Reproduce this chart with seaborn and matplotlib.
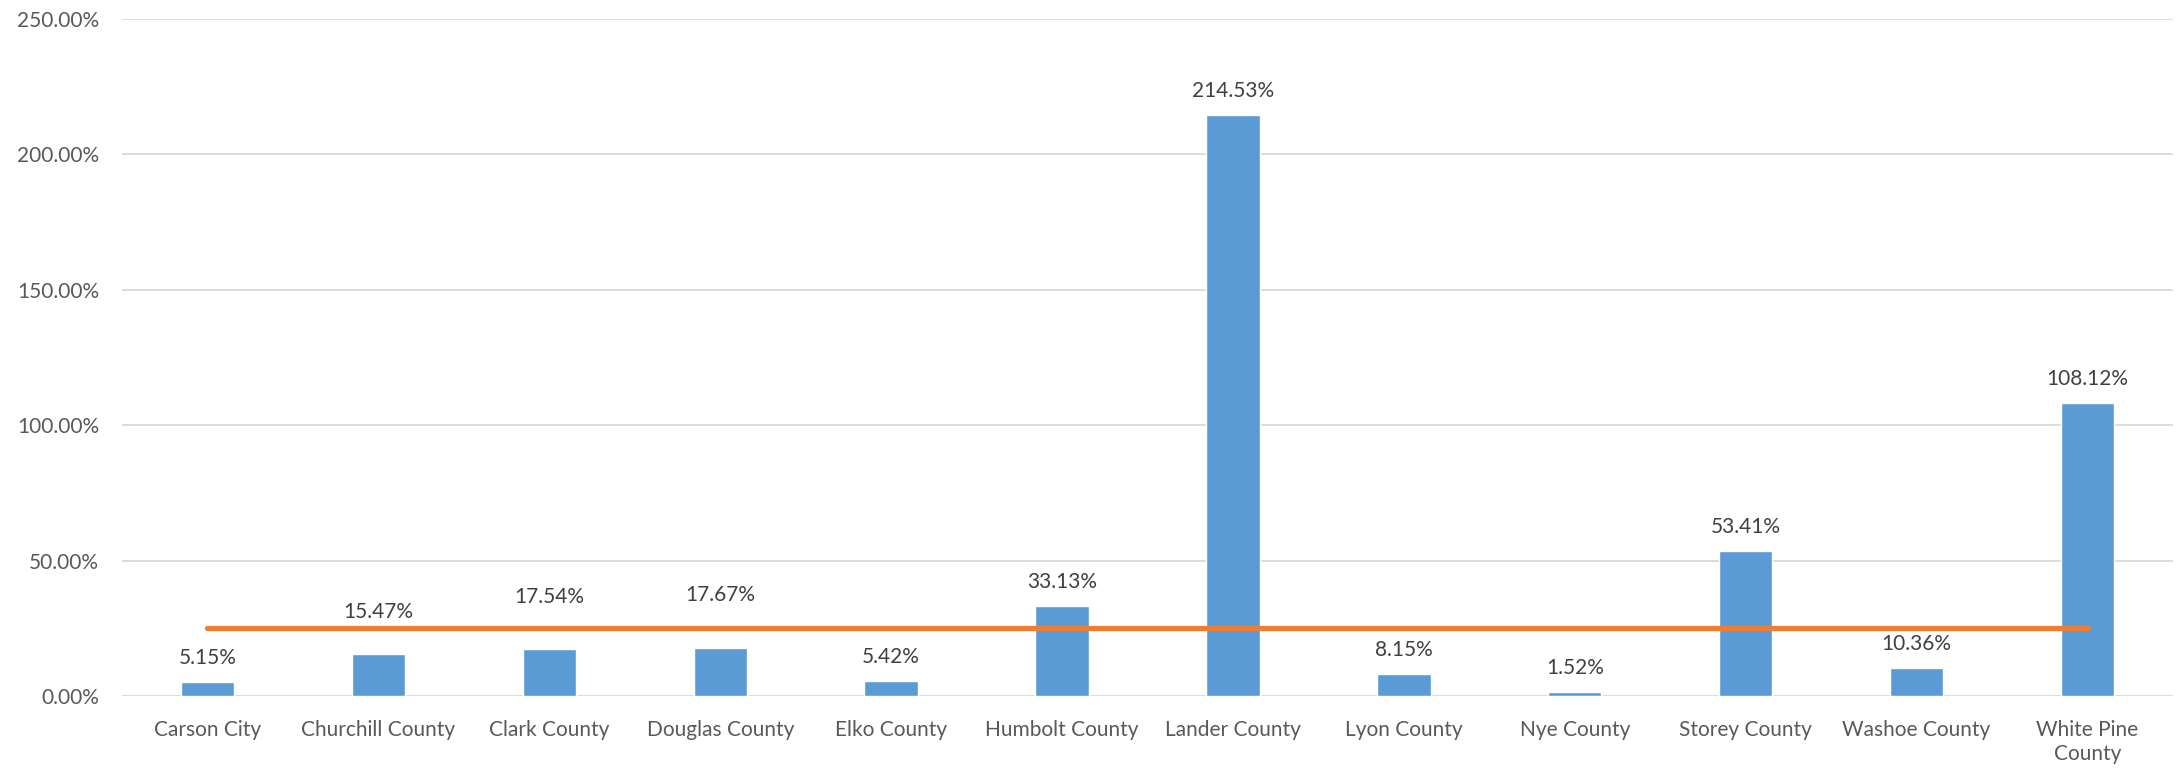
import matplotlib
matplotlib.use("Agg")
import matplotlib.pyplot as plt
import seaborn as sns
import pandas as pd
from matplotlib.ticker import FuncFormatter, MultipleLocator

categories = ["Carson City", "Churchill County", "Clark County", "Douglas County",
              "Elko County", "Humbolt County", "Lander County", "Lyon County",
              "Nye County", "Storey County", "Washoe County", "White Pine\nCounty"]
values = [5.15, 15.47, 17.54, 17.67, 5.42, 33.13, 214.53, 8.15, 1.52, 53.41, 10.36, 108.12]
benchmark = [25.0] * len(categories)
# extra upward nudge (points) of data labels that were moved above the line
label_nudge = [0, 13, 19.5, 21, 0, 0, 0, 0, 0, 0, 0, 0]

sns.set_theme(style="white")
plt.rcParams["font.family"] = ["Lato", "DejaVu Sans"]

df = pd.DataFrame({"county": categories, "pct": values})

fig = plt.figure(figsize=(21.78, 7.68), dpi=100)
ax = fig.add_axes([122 / 2178, 1 - 696 / 768, (2173 - 122) / 2178, (696 - 19) / 768])

sns.barplot(data=df, x="county", y="pct", color="#5B9BD5", width=0.312,
            saturation=1, ax=ax, zorder=3)
ax.plot(range(len(categories)), benchmark, color="#ED7D31", lw=3.8,
        solid_capstyle="round", zorder=4)

for i, v in enumerate(values):
    ax.annotate(f"{v:.2f}%", (i, v), xytext=(0, 13 + label_nudge[i]),
                textcoords="offset points", ha="center", va="baseline",
                fontsize=15, color="#404040", zorder=5)

ax.set_ylim(0, 250)
ax.set_xlim(-0.5, len(categories) - 0.5)
ax.yaxis.set_major_locator(MultipleLocator(50))
ax.yaxis.set_major_formatter(FuncFormatter(lambda y, p: f"{y:.2f}%"))
ax.grid(axis="y", color="#D9D9D9", lw=1.3, zorder=0)
ax.set_axisbelow(True)
for s in ax.spines.values():
    s.set_visible(False)
ax.tick_params(axis="both", length=0, labelsize=15, labelcolor="#595959")
ax.tick_params(axis="y", pad=16.5)
ax.tick_params(axis="x", pad=17)
for lab in ax.get_xticklabels():
    lab.set_linespacing(1.3)
ax.set_xlabel("")
ax.set_ylabel("")

fig.savefig("out.png", dpi=100)
